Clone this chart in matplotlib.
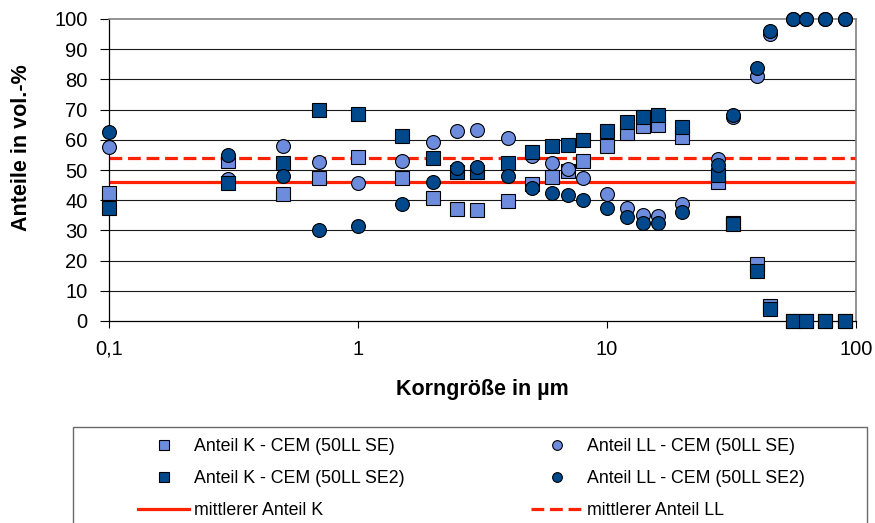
import numpy as np
import matplotlib
matplotlib.use("Agg")
import matplotlib.pyplot as plt
from matplotlib.lines import Line2D
from matplotlib.patches import Rectangle

plt.rcParams['font.family'] = ['Liberation Sans', 'DejaVu Sans']

# Korngrößen in µm
korn = [0.1, 0.3, 0.5, 0.7, 1, 1.5, 2, 2.5, 3, 4, 5, 6, 7, 8, 10, 12, 14, 16,
        20, 28, 32, 40, 45, 56, 63, 75, 90]

# Anteile in vol.-%
k_se = [42.3, 53.0, 42.2, 47.4, 54.4, 47.2, 40.8, 37.1, 36.8, 39.8, 45.5, 47.8,
        49.6, 53.0, 58.0, 62.1, 64.6, 64.8, 60.8, 46.1, 32.6, 18.9, 5.1, 0, 0, 0, 0]
k_se2 = [37.3, 45.6, 52.2, 70.0, 68.4, 61.3, 54.1, 49.4, 49.3, 52.2, 56.0, 57.8,
         58.4, 60.0, 63.0, 65.8, 67.6, 68.1, 64.3, 48.3, 32.0, 16.7, 3.9, 0, 0, 0, 0]
ll_se = [57.7, 47.0, 57.9, 52.8, 45.7, 52.9, 59.4, 63.0, 63.4, 60.5, 54.5, 52.4,
         50.4, 47.2, 42.0, 37.4, 35.1, 34.8, 38.7, 53.8, 67.4, 81.1, 94.9, 100, 100, 100, 100]
ll_se2 = [62.7, 55.1, 48.0, 30.0, 31.5, 38.8, 46.1, 50.5, 51.1, 48.0, 44.2, 42.5,
          41.8, 40.2, 37.3, 34.3, 32.5, 32.3, 36.2, 51.7, 68.1, 83.7, 96.1, 100, 100, 100, 100]

mittel_k = 46
mittel_ll = 54

hell = '#6E8CDD'
dunkel = '#00488C'
rot = '#FF2200'

W, H = 875, 523
fig = plt.figure(figsize=(W / 100, H / 100), dpi=100)
ax = fig.add_axes([109 / W, 1 - 321 / H, (856 - 109) / W, (321 - 19) / H])

ax.set_xscale('log')
ax.set_xlim(0.1, 100)
ax.set_ylim(0, 100)

# horizontal grid
for y in range(10, 100, 10):
    ax.axhline(y, color='#1a1a1a', lw=0.8, zorder=1)

# mean lines
ax.axhline(mittel_k, color=rot, lw=2.3, zorder=2)
ax.axhline(mittel_ll, color=rot, lw=2.3, ls=(0, (4, 1.8)), zorder=2)

mk = dict(markersize=10, markeredgecolor='black', markeredgewidth=0.8,
          ls='none', clip_on=False)
ax.plot(korn, k_se, 's', color=hell, zorder=3, **mk)
ax.plot(korn, ll_se, 'o', color=hell, zorder=4, **mk)
ax.plot(korn, k_se2, 's', color=dunkel, zorder=5, **mk)
ax.plot(korn, ll_se2, 'o', color=dunkel, zorder=6, **mk)

ax.set_yticks(range(0, 101, 10))
ax.set_xticks([0.1, 1, 10, 100])
ax.set_xticklabels(['0,1', '1', '10', '100'])
ax.xaxis.set_minor_locator(matplotlib.ticker.NullLocator())
ax.tick_params(axis='y', direction='out', length=6.5, width=0.8, pad=9,
               labelsize=14.5, color='black')
ax.tick_params(axis='x', direction='out', length=5, width=0.8, pad=8.5,
               labelsize=14.5, color='black')

for s in ['left', 'bottom']:
    ax.spines[s].set_color('black')
    ax.spines[s].set_linewidth(0.9)
for s in ['top', 'right']:
    ax.spines[s].set_color('#808080')
    ax.spines[s].set_linewidth(1.2)

ax.set_xlabel('Korngröße in µm', fontsize=15.5, fontweight='bold')
ax.xaxis.set_label_coords(0.5, (321 - 390) / 302)
ax.xaxis.label.set_va('center')
ax.set_ylabel('Anteile in vol.-%', fontsize=15.5, fontweight='bold')
ax.yaxis.set_label_coords((22 - 109) / 747, (321 - 148) / 302)
ax.yaxis.label.set_va('center')

# legend box
fig.patches.append(Rectangle((73 / W, -0.1), (867 - 73) / W, 0.1 + 1 - 427 / H,
                             transform=fig.transFigure, fill=False,
                             edgecolor='#6a6a6a', lw=1.0))

lm = dict(markeredgecolor='black', markeredgewidth=0.8, ls='none', markersize=7)
handles = [
    Line2D([], [], marker='s', color=hell, **lm),
    Line2D([], [], marker='s', color=dunkel, **lm),
    Line2D([], [], color=rot, lw=2.3),
    Line2D([], [], marker='o', color=hell, **lm),
    Line2D([], [], marker='o', color=dunkel, **lm),
    Line2D([], [], color=rot, lw=2.3, ls=(0, (4, 1.8))),
]
labels = ['Anteil K - CEM (50LL SE)', 'Anteil K - CEM (50LL SE2)', 'mittlerer Anteil K',
          'Anteil LL - CEM (50LL SE)', 'Anteil LL - CEM (50LL SE2)', 'mittlerer Anteil LL']
fig.legend(handles, labels, ncol=2, loc='upper left',
           bbox_to_anchor=(138 / W, 1 - 438 / H), frameon=False,
           borderpad=0, borderaxespad=0, fontsize=12.8,
           handlelength=2.87, handletextpad=0.29, columnspacing=7.1,
           labelspacing=0.84)

fig.savefig('out.png', dpi=100)
